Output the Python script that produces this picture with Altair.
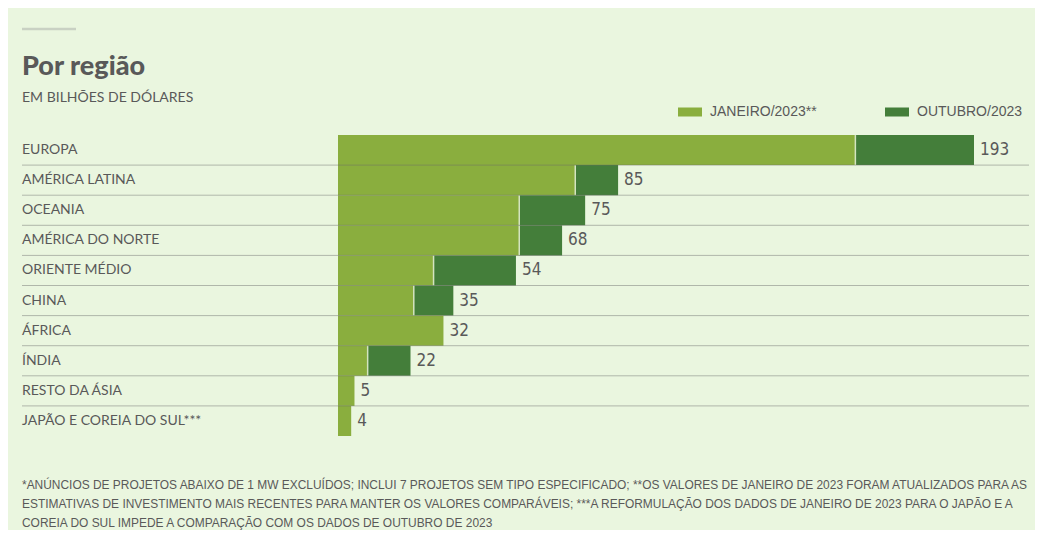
import altair as alt
import pandas as pd

regions = ["EUROPA", "AMÉRICA LATINA", "OCEANIA", "AMÉRICA DO NORTE", "ORIENTE MÉDIO",
           "CHINA", "ÁFRICA", "ÍNDIA", "RESTO DA ÁSIA", "JAPÃO E COREIA DO SUL***"]
jan_values = [157, 72, 55, 55, 29, 23, 32, 9, 5, 4]
oct_values = [193, 85, 75, 68, 54, 35, 32, 22, 5, None]
value_labels = ["193", "85", "75", "68", "54", "35", "32", "22", "5", "4"]
series_names = ["JANEIRO/2023**", "OUTUBRO/2023"]
title_text = "Por região"
subtitle_text = "EM BILHÕES DE DÓLARES"
footnote_lines = [
    "*ANÚNCIOS DE PROJETOS ABAIXO DE 1 MW EXCLUÍDOS; INCLUI 7 PROJETOS SEM TIPO ESPECIFICADO; **OS VALORES DE JANEIRO DE 2023 FORAM ATUALIZADOS PARA AS",
    "ESTIMATIVAS DE INVESTIMENTO MAIS RECENTES PARA MANTER OS VALORES COMPARÁVEIS; ***A REFORMULAÇÃO DOS DADOS DE JANEIRO DE 2023 PARA O JAPÃO E A",
    "COREIA DO SUL IMPEDE A COMPARAÇÃO COM OS DADOS DE OUTUBRO DE 2023",
]

LIGHT = "#8aae3e"
DARK = "#447e3a"
BG = "#eaf6df"
TEXT = "#595959"
NARROW = "Liberation Sans Narrow, DejaVu Sans Condensed, Roboto, sans-serif"

bar_rows, sep_rows, label_rows = [], [], []
for r, j, o, lab in zip(regions, jan_values, oct_values, value_labels):
    bar_rows.append({"region": r, "series": series_names[0], "start": 0, "end": j})
    if o is not None and o > j:
        bar_rows.append({"region": r, "series": series_names[1], "start": j, "end": o})
        sep_rows.append({"region": r, "pos": j})
    label_rows.append({"region": r, "pos": o if o is not None else j, "label": lab})

bars_df = pd.DataFrame(bar_rows)
sep_df = pd.DataFrame(sep_rows)
lab_df = pd.DataFrame(label_rows)
reg_df = pd.DataFrame({"region": regions})
grid_df = pd.DataFrame({"region": regions[:-1]})

x_scale = alt.Scale(domain=[0, 193], range=[330, 966])
y_scale = alt.Scale(domain=regions, range=[127, 428], paddingInner=0, paddingOuter=0)

def Y(**kw):
    return alt.Y("region:N", scale=y_scale, axis=None, **kw)

bars = alt.Chart(bars_df).mark_bar(opacity=1).encode(
    x=alt.X("start:Q", scale=x_scale, axis=None),
    x2="end:Q",
    y=Y(),
    color=alt.Color(
        "series:N",
        scale=alt.Scale(domain=series_names, range=[LIGHT, DARK]),
        legend=alt.Legend(
            orient="none", legendX=670, legendY=92, direction="horizontal", title=None,
            symbolType="M-1,-0.375H1V0.375H-1Z", symbolSize=576, symbolStrokeWidth=0,
            symbolOpacity=1, labelFont="Liberation Sans", labelFontSize=14,
            labelColor=TEXT, labelOffset=8, columnPadding=68, padding=0, labelLimit=300,
        ),
    ),
)

seps = alt.Chart(sep_df).mark_tick(color="#d4e4c0", thickness=1.5, size=30, opacity=1).encode(
    x=alt.X("pos:Q", scale=x_scale, axis=None),
    y=Y(),
)

grid = alt.Chart(grid_df).mark_rule(color="#6a6a6a", opacity=0.45, strokeWidth=1).encode(
    x=alt.value(14), x2=alt.value(1021),
    y=Y(bandPosition=1),
)

row_labels = alt.Chart(reg_df).mark_text(
    align="left", baseline="middle", font="Lato", fontSize=14, color=TEXT
).encode(x=alt.value(14), y=Y(), text="region:N")

value_text = alt.Chart(lab_df).mark_text(
    align="left", baseline="middle", dx=6, font=NARROW, fontSize=17, color=TEXT
).encode(x=alt.X("pos:Q", scale=x_scale, axis=None), y=Y(), text="label:N")

one = pd.DataFrame({"k": [0]})
deco = alt.Chart(one).mark_rule(color="#c9d1c3", strokeWidth=2.5).encode(
    x=alt.value(14), x2=alt.value(68), y=alt.value(21)
)
title = alt.Chart(one).mark_text(
    text=title_text, align="left", baseline="alphabetic", font="Lato", fontWeight=900,
    fontSize=27, color=TEXT
).encode(x=alt.value(14), y=alt.value(67))
subtitle = alt.Chart(one).mark_text(
    text=subtitle_text, align="left", baseline="alphabetic", font="Lato", fontSize=14, color=TEXT
).encode(x=alt.value(14), y=alt.value(94))
footnote = alt.Chart(one).mark_text(
    text=footnote_lines, align="left", baseline="alphabetic", font="Liberation Sans",
    fontSize=11.95, lineHeight=19, color=TEXT
).encode(x=alt.value(14), y=alt.value(481))

chart = alt.layer(
    deco, title, subtitle, bars, seps, grid, row_labels, value_text, footnote
).properties(
    width=1027, height=522, background=BG, padding=0,
    autosize=alt.AutoSizeParams(type="none"),
).configure_view(stroke=None)

chart.save("out.html", embed_options={"renderer": "svg", "actions": False})
